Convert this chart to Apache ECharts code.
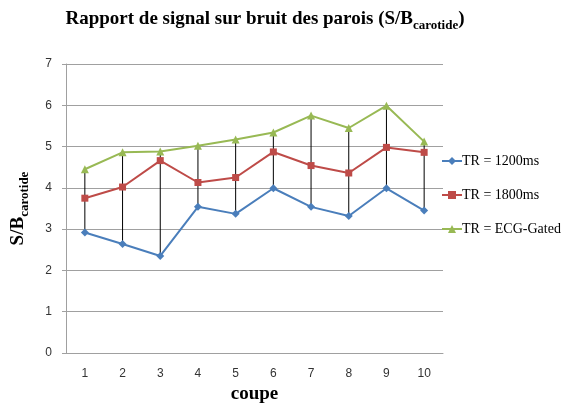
<!DOCTYPE html>
<html>
<head>
<meta charset="utf-8">
<script src="https://cdn.jsdelivr.net/npm/echarts@6/dist/echarts.min.js"></script>
<style>
  html, body { margin: 0; padding: 0; background: #fff; }
  #chart { width: 561px; height: 405px; }
</style>
</head>
<body>
<div id="chart"></div>
<script>
// Slice numbers along the vessel
const coupes = ['1', '2', '3', '4', '5', '6', '7', '8', '9', '10'];

// Wall signal-to-noise ratio per slice, for each repetition time
const tr1200 = [2.92, 2.64, 2.35, 3.54, 3.37, 3.99, 3.54, 3.32, 3.99, 3.45];
const tr1800 = [3.75, 4.02, 4.66, 4.13, 4.25, 4.87, 4.54, 4.36, 4.98, 4.86];
const trEcg  = [4.45, 4.86, 4.88, 5.02, 5.17, 5.34, 5.75, 5.45, 5.99, 5.12];

const seriesNames = ['TR = 1200ms', 'TR = 1800ms', 'TR = ECG-Gated'];

// High-low span for each slice (min and max across the three series)
const spans = coupes.map((c, i) => {
  const vals = [tr1200[i], tr1800[i], trEcg[i]];
  return [i, Math.min(...vals), Math.max(...vals)];
});

const serif = '"Liberation Serif", "Times New Roman", serif';
const sans = '"Liberation Sans", Arial, sans-serif';

// Bold serif text with a lowered subscript
const subRich = {
  m: { fontFamily: serif, fontWeight: 'bold', fontSize: 19, color: '#000', verticalAlign: 'top', lineHeight: 22 },
  s: { fontFamily: serif, fontWeight: 'bold', fontSize: 13, color: '#000', verticalAlign: 'bottom', lineHeight: 14, padding: [16, 0, 0, 0] }
};

const chart = echarts.init(document.getElementById('chart'));

chart.setOption({
  animation: false,
  backgroundColor: '#ffffff',
  title: {
    text: '{m|Rapport de signal sur bruit des parois (S/B}{s|carotide}{m|)}',
    left: 265,
    top: 10,
    padding: 0,
    textAlign: 'center',
    textStyle: { rich: subRich }
  },
  legend: {
    orient: 'vertical',
    left: 436,
    top: 149,
    itemWidth: 20,
    itemHeight: 10,
    itemGap: 20,
    data: seriesNames,
    textStyle: { fontFamily: serif, fontSize: 14, lineHeight: 14, color: '#000', padding: [0, 0, 0, -5] }
  },
  grid: {
    left: 66,
    right: 118,
    top: 64,
    bottom: 52,
    containLabel: false,
    outerBoundsMode: 'none'
  },
  xAxis: {
    type: 'category',
    data: coupes,
    boundaryGap: true,
    name: 'coupe',
    nameLocation: 'middle',
    nameGap: 31,
    nameTextStyle: { fontFamily: serif, fontWeight: 'bold', fontSize: 19, color: '#000' },
    axisLine: { lineStyle: { color: '#a0a0a0', width: 1 } },
    axisTick: { show: false },
    axisLabel: { fontFamily: sans, fontSize: 12, color: '#333', margin: 15 },
    splitLine: { show: false }
  },
  yAxis: {
    type: 'value',
    min: 0,
    max: 7,
    interval: 1,
    name: '{m|S/B}{s|carotide}',
    nameLocation: 'middle',
    nameGap: 35,
    nameRotate: 90,
    nameTextStyle: { rich: subRich },
    axisLine: { show: true, lineStyle: { color: '#a0a0a0', width: 1 } },
    axisTick: { show: true, length: 4, lineStyle: { color: '#a0a0a0' } },
    axisLabel: { fontFamily: sans, fontSize: 12, color: '#333', margin: 14 },
    splitLine: { lineStyle: { color: '#a0a0a0', width: 1 } }
  },
  series: [
    {
      // vertical high-low lines joining the extreme values of each slice
      type: 'custom',
      silent: true,
      z: 1,
      data: spans,
      encode: { x: 0, y: [1, 2] },
      renderItem: function (params, api) {
        const lo = api.coord([api.value(0), api.value(1)]);
        const hi = api.coord([api.value(0), api.value(2)]);
        return {
          type: 'line',
          shape: { x1: lo[0], y1: lo[1], x2: hi[0], y2: hi[1] },
          style: { stroke: '#000', lineWidth: 1 }
        };
      }
    },
    {
      name: seriesNames[0],
      type: 'line',
      z: 3,
      data: tr1200,
      symbol: 'diamond',
      symbolSize: 8,
      lineStyle: { color: '#4a7ebb', width: 2 },
      itemStyle: { color: '#4a7ebb' }
    },
    {
      name: seriesNames[1],
      type: 'line',
      z: 3,
      data: tr1800,
      symbol: 'rect',
      symbolSize: 7,
      lineStyle: { color: '#be4b48', width: 2 },
      itemStyle: { color: '#be4b48' }
    },
    {
      name: seriesNames[2],
      type: 'line',
      z: 3,
      data: trEcg,
      symbol: 'triangle',
      symbolSize: 8,
      lineStyle: { color: '#98b954', width: 2 },
      itemStyle: { color: '#98b954' }
    }
  ]
});
</script>
</body>
</html>
